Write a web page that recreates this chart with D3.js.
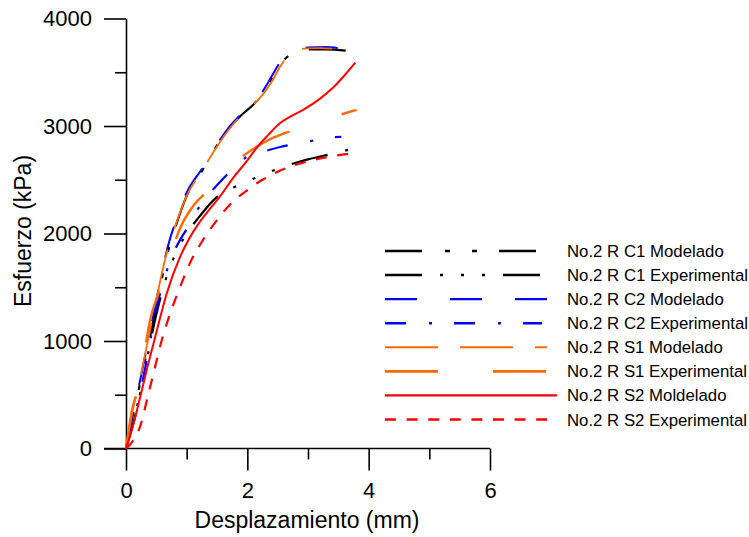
<!DOCTYPE html>
<html><head><meta charset="utf-8">
<script src="https://cdn.jsdelivr.net/npm/d3@7"></script>
<style>body{margin:0;background:#fff}svg{display:block}text{font-family:"Liberation Sans",Arial,sans-serif;fill:#000}</style>
</head><body>
<svg id="c" width="749" height="537"></svg>
<script>
// ---- data ----
const seriesNames = ["No.2 R C1 Modelado","No.2 R C1 Experimental","No.2 R C2 Modelado","No.2 R C2 Experimental","No.2 R S1 Modelado","No.2 R S1 Experimental","No.2 R S2 Moldelado","No.2 R S2 Experimental"];
const c1ModX = [0,0.1,0.25,0.4,0.5,0.7,0.85,1.0,1.25,1.5,1.7,1.9,2.1,2.25,2.4,2.55,2.7,2.85,3.0,3.3,3.65];
const c1ModY = [0,280,650,1050,1330,1850,2120,2350,2580,2820,2980,3100,3200,3300,3440,3580,3660,3700,3712,3712,3700];
const c1ExpX = [0,0.15,0.3,0.5,0.7,0.85,1.0,1.2,1.5,1.65,1.8,2.1,2.4,2.7,3.0,3.2,3.45,3.8];
const c1ExpY = [0,300,700,1250,1650,1850,2000,2150,2340,2400,2435,2510,2580,2640,2690,2715,2750,2795];
const c2ModX = [0,0.1,0.25,0.4,0.5,0.7,0.85,1.0,1.25,1.5,1.7,1.9,2.1,2.25,2.4,2.55,2.7,2.85,3.0,3.3,3.5];
const c2ModY = [0,290,680,1100,1380,1900,2160,2380,2600,2830,2990,3110,3210,3320,3460,3600,3680,3715,3730,3735,3725];
const c2ExpX = [0,0.15,0.3,0.5,0.7,0.9,1.0,1.2,1.5,1.66,1.93,2.26,2.54,2.9,3.25,3.55];
const c2ExpY = [0,320,700,1300,1700,1950,2040,2240,2450,2545,2690,2760,2805,2842,2884,2900];
const s1ModX = [0,0.1,0.25,0.4,0.5,0.7,0.85,1.0,1.25,1.5,1.7,1.9,2.1,2.25,2.4,2.55,2.7,2.85,3.0,3.2,3.4];
const s1ModY = [0,320,700,1110,1390,1880,2130,2350,2580,2810,2970,3100,3200,3290,3410,3560,3670,3710,3722,3725,3720];
const s1ExpX = [0,0.1,0.2,0.4,0.6,0.9,1.1,1.35,1.6,2.0,2.35,2.7,3.1,3.5,3.8];
const s1ExpY = [0,360,560,1200,1540,2060,2250,2400,2570,2750,2870,2950,3030,3100,3150];
const s2ModX = [0,0.12,0.23,0.35,0.5,0.67,0.89,1.05,1.22,1.4,1.55,1.77,2.0,2.15,2.35,2.54,2.7,2.92,3.2,3.41,3.6,3.78];
const s2ModY = [0,220,470,750,1080,1440,1780,1960,2110,2240,2345,2520,2680,2795,2920,3028,3085,3150,3255,3355,3470,3590];
const s2ExpX = [0,0.1,0.23,0.37,0.48,0.59,0.73,0.89,1.05,1.27,1.5,1.75,2.0,2.25,2.5,2.8,3.1,3.4,3.8];
const s2ExpY = [0,60,200,510,760,1010,1260,1500,1720,1940,2125,2290,2404,2500,2575,2640,2685,2720,2750];
const xMajorTicks = [0,2,4,6];
const xMinorTicks = [1,3,5];
const yMajorTicks = [0,1000,2000,3000,4000];
const yMinorTicks = [500,1500,2500,3500];
const xTitle = "Desplazamiento (mm)";
const yTitle = "Esfuerzo (kPa)";

// ---- styles ----
const styles = [
  {color:"#000000", dash:"37,23,5,22,5,22", w:2.2, end:536},
  {color:"#000000", dash:"37,18,3,18,3,18,3,18", w:2.2, end:542},
  {color:"#0000ff", dash:"32,33", w:2, end:547},
  {color:"#0000ff", dash:"21,23,3,22", w:2.2, end:542},
  {color:"#ff6a00", dash:"53,22", w:1.8, end:547},
  {color:"#ff6a00", dash:"53,55", w:2.4, end:547},
  {color:"#ff0000", dash:null, w:2, end:557},
  {color:"#ff0000", dash:"11,10.6", w:2.2, end:547}
];
const seriesX = [c1ModX,c1ExpX,c2ModX,c2ExpX,s1ModX,s1ExpX,s2ModX,s2ExpX];
const seriesY = [c1ModY,c1ExpY,c2ModY,c2ExpY,s1ModY,s1ExpY,s2ModY,s2ExpY];

const svg = d3.select("#c");
const x = d3.scaleLinear().domain([0,6]).range([126,490]);
const y = d3.scaleLinear().domain([0,4000]).range([448.5,18.5]);

// axes
const fs = "22px";
const gx = svg.append("g").attr("transform","translate(0,448.5)")
  .call(d3.axisBottom(x).tickValues(xMajorTicks).tickSize(22).tickSizeOuter(0).tickPadding(12).tickFormat(d3.format("d")));
const gxm = svg.append("g").attr("transform","translate(0,448.5)")
  .call(d3.axisBottom(x).tickValues(xMinorTicks).tickSize(11).tickFormat(""));
gxm.select(".domain").remove();
const gy = svg.append("g").attr("transform","translate(126,0)")
  .call(d3.axisLeft(y).tickValues(yMajorTicks).tickSize(22).tickSizeOuter(0).tickPadding(12).tickFormat(d3.format("d")));
const gym = svg.append("g").attr("transform","translate(126,0)")
  .call(d3.axisLeft(y).tickValues(yMinorTicks).tickSize(11).tickFormat(""));
gym.select(".domain").remove();
gx.select(".domain").attr("d", `M104,0H${x(6)}`);
svg.selectAll(".domain").attr("stroke","#000").attr("stroke-width",1.6);
svg.selectAll(".tick line").attr("stroke","#000").attr("stroke-width",1.6);
svg.selectAll(".tick text").attr("font-size",fs).attr("font-family","Liberation Sans, Arial, sans-serif").attr("fill","#000");

svg.append("text").attr("x",307).attr("y",528).attr("text-anchor","middle").attr("font-size","23px").text(xTitle);
svg.append("text").attr("transform","translate(31,231) rotate(-90)").attr("text-anchor","middle").attr("font-size","23px").text(yTitle);

// curves
const line = d3.line().x(d=>x(d[0])).y(d=>y(d[1])).curve(d3.curveMonotoneX);
seriesNames.forEach((name,i)=>{
  const pts = seriesX[i].map((v,j)=>[v,seriesY[i][j]]);
  const p = svg.append("path").datum(pts).attr("d",line).attr("fill","none")
    .attr("stroke",styles[i].color).attr("stroke-width",styles[i].w);
  if(styles[i].dash) p.attr("stroke-dasharray",styles[i].dash);
});

// legend
const rowY = d3.scalePoint().domain(seriesNames).range([251,419.5]);
seriesNames.forEach((name,i)=>{
  const yy = rowY(name);
  const l = svg.append("line").attr("x1",385).attr("x2",styles[i].end).attr("y1",yy).attr("y2",yy)
    .attr("stroke",styles[i].color).attr("stroke-width",styles[i].w+0.3);
  if(styles[i].dash) l.attr("stroke-dasharray",styles[i].dash);
  svg.append("text").attr("x",567).attr("y",yy+6).attr("font-size","16.8px").text(name);
});
</script>
</body></html>
